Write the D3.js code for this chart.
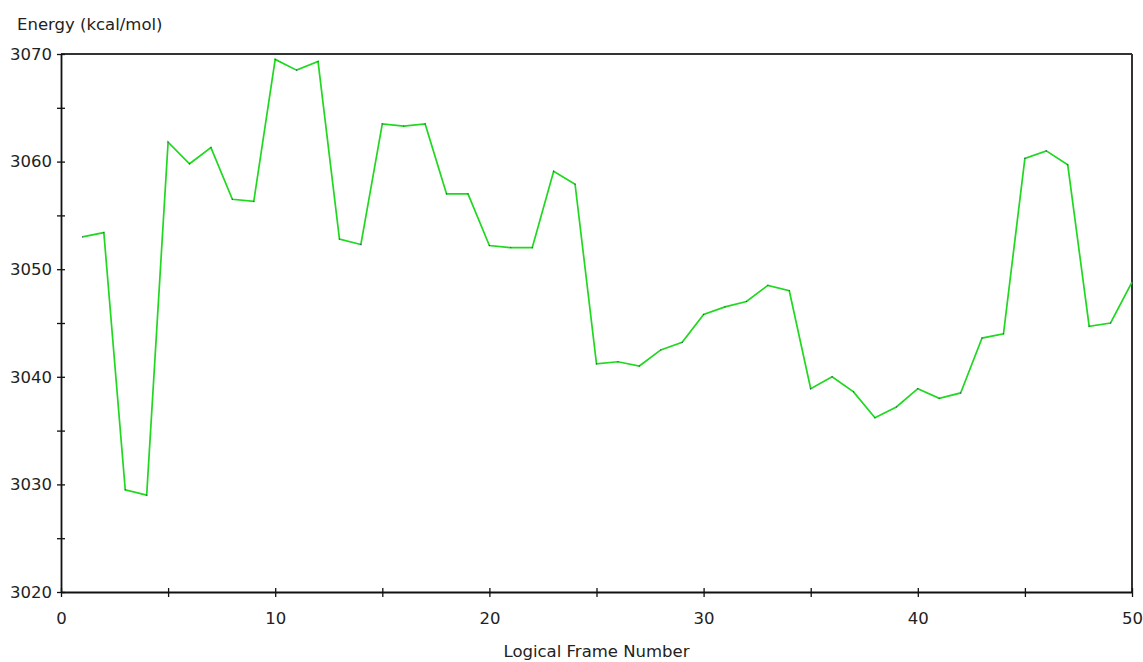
<!DOCTYPE html>
<html>
<head>
<meta charset="utf-8">
<script src="https://cdn.jsdelivr.net/npm/d3@7"></script>
<style>
  html, body { margin: 0; padding: 0; background: #fff; }
  svg text { font-family: "DejaVu Sans", Verdana, sans-serif; fill: #222; }
</style>
</head>
<body>
<svg id="chart" width="1143" height="662"></svg>
<script>
const frames = d3.range(1, 51);
const energy = [
  3053.0, 3053.4, 3029.5, 3029.0, 3061.8, 3059.8, 3061.3, 3056.5, 3056.3, 3069.5,
  3068.5, 3069.3, 3052.8, 3052.3, 3063.5, 3063.3, 3063.5, 3057.0, 3057.0, 3052.2,
  3052.0, 3052.0, 3059.1, 3057.9, 3041.2, 3041.4, 3041.0, 3042.5, 3043.2, 3045.8,
  3046.5, 3047.0, 3048.5, 3048.0, 3038.9, 3040.0, 3038.6, 3036.2, 3037.2, 3038.9,
  3038.0, 3038.5, 3043.6, 3044.0, 3060.3, 3061.0, 3059.7, 3044.7, 3045.0, 3048.8
];
const xMajorTicks = [0, 10, 20, 30, 40, 50];
const xMinorTicks = [5, 15, 25, 35, 45];
const yMajorTicks = [3020, 3030, 3040, 3050, 3060, 3070];
const yMinorTicks = [3025, 3035, 3045, 3055, 3065];
const yTitle = "Energy (kcal/mol)";
const xTitle = "Logical Frame Number";

const svg = d3.select("#chart");
const mLeft = 61, mRight = 1132, mTop = 54, mBottom = 592;

const x = d3.scaleLinear().domain([0, 50]).range([mLeft, mRight]);
const y = d3.scaleLinear().domain([3020, 3070]).range([mBottom, mTop]);

// frame top/right
svg.append("line").attr("x1", mLeft).attr("x2", mRight).attr("y1", mTop).attr("y2", mTop)
  .attr("stroke", "#333").attr("stroke-width", 2);
svg.append("line").attr("x1", mRight).attr("x2", mRight).attr("y1", mTop).attr("y2", mBottom)
  .attr("stroke", "#333").attr("stroke-width", 2);

// axes
const fs = "16.5px";
const yAxis = d3.axisLeft(y).tickValues(yMajorTicks.concat(yMinorTicks))
  .tickSizeInner(4).tickSizeOuter(0).tickPadding(5)
  .tickFormat(d => yMajorTicks.includes(d) ? d3.format("d")(d) : "");
const gy = svg.append("g").attr("transform", `translate(${mLeft},0)`).call(yAxis);
gy.selectAll(".tick line").attr("x2", 4).attr("x1", -4).attr("stroke", "#111").attr("stroke-width", 1.3);
gy.select(".domain").attr("stroke", "#111").attr("stroke-width", 1.8);
gy.selectAll("text").attr("font-size", fs).attr("fill", "#222").attr("x", -9)
  .style("font-family", "'DejaVu Sans', Verdana, sans-serif");

const xAxis = d3.axisBottom(x).tickValues(xMajorTicks.concat(xMinorTicks))
  .tickSizeInner(4).tickSizeOuter(0).tickPadding(16)
  .tickFormat(d => xMajorTicks.includes(d) ? d3.format("d")(d) : "");
const gx = svg.append("g").attr("transform", `translate(0,${mBottom})`).call(xAxis);
gx.selectAll(".tick line").attr("y1", -4).attr("y2", 5).attr("stroke", "#111").attr("stroke-width", 1.3);
gx.select(".domain").attr("stroke", "#111").attr("stroke-width", 1.8);
gx.selectAll("text").attr("font-size", fs).attr("fill", "#222")
  .style("font-family", "'DejaVu Sans', Verdana, sans-serif");

// titles
svg.append("text").attr("x", 17).attr("y", 30).attr("font-size", fs).text(yTitle);
svg.append("text").attr("x", (mLeft + mRight) / 2).attr("y", 657).attr("text-anchor", "middle")
  .attr("font-size", fs).text(xTitle);

// line
const data = frames.map((f, i) => ({ f, v: energy[i] }));
const line = d3.line().x(d => x(d.f)).y(d => y(d.v));
svg.append("path").datum(data).attr("d", line).attr("fill", "none")
  .attr("stroke", "#1fd81f").attr("stroke-width", 1.7).attr("stroke-linejoin", "miter");

// tiny vertex markers
svg.selectAll("rect.pt").data(data).join("rect").attr("class", "pt")
  .attr("x", d => x(d.f) - 0.5).attr("y", d => y(d.v) - 0.5)
  .attr("width", 1).attr("height", 1).attr("fill", "#33337a");
</script>
</body>
</html>
